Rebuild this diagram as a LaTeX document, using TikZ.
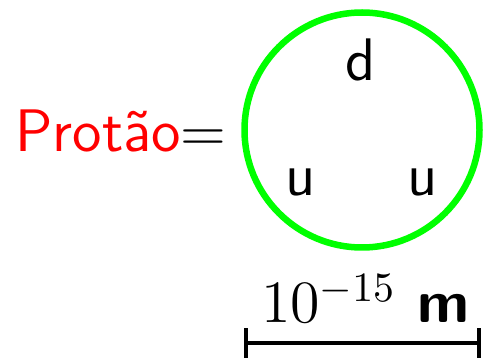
\documentclass[tikz,border=0pt]{standalone}
\newcommand{\bigtxt}[1]{\scalebox{4.17}{\fontsize{14.4}{16}\selectfont\sffamily #1}}
\begin{document}
\begin{tikzpicture}[x=1pt,y=-1pt,
  lbl/.style={inner sep=0pt, anchor=base},
  bar/.style={line width=4.5pt, black}]
\useasboundingbox (0,0) rectangle (485,358);
\node[circle, draw=green, line width=6.5pt, minimum size=235pt, inner sep=0pt] (p) at (362,130) {};
\node[lbl, anchor=base west] (name) at (15,151.7) {\bigtxt{\textcolor{red}{Protão}$=$}};
\node[lbl] (d) at (361,81) {\bigtxt{d}};
\node[lbl] (u1) at (301,196) {\bigtxt{u}};
\node[lbl] (u2) at (422.5,196) {\bigtxt{u}};
\coordinate (bl) at (246,343);
\coordinate (br) at (479,343);
\draw[bar] (bl) -- (br);
\draw[bar] ([yshift=-14.5pt]bl) -- ([yshift=14.5pt]bl);
\draw[bar] ([yshift=-14.5pt]br) -- ([yshift=14.5pt]br);
\node[lbl] (scale) at (365.5,323) {\bigtxt{$10^{-15}$\hspace{0.36em}\textbf{m}}};
\end{tikzpicture}
\end{document}
